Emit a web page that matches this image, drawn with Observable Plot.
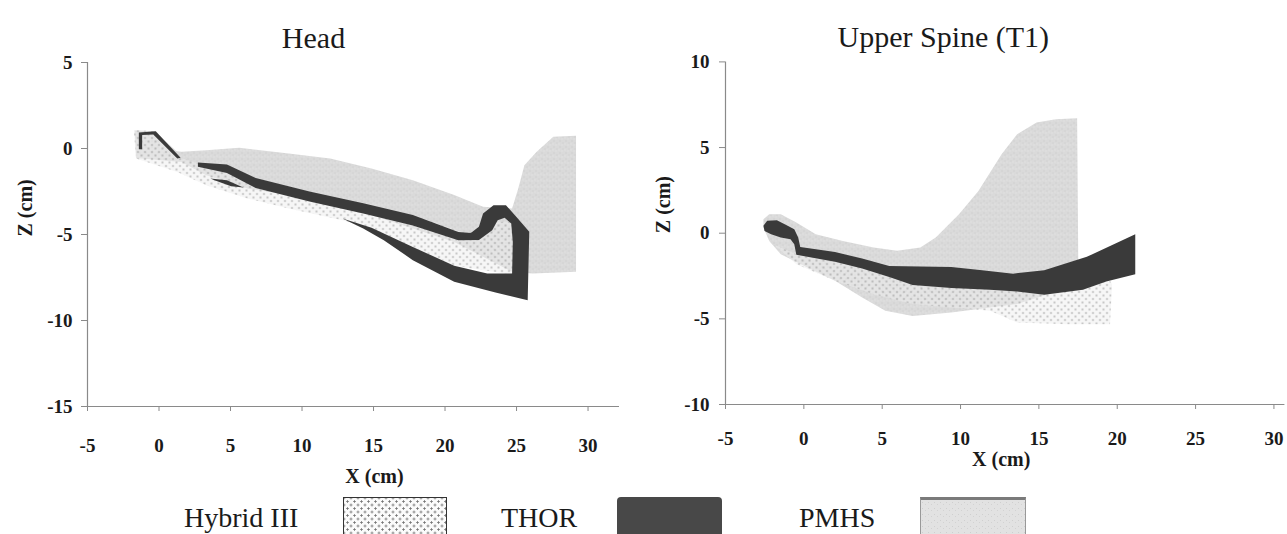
<!DOCTYPE html>
<html>
<head>
<meta charset="utf-8">
<script src="https://cdn.jsdelivr.net/npm/d3@7"></script>
<script src="https://cdn.jsdelivr.net/npm/@observablehq/plot@0.6"></script>
<style>
  html, body { margin: 0; padding: 0; background: #fff; overflow: hidden; }
  #wrap { position: relative; width: 1287px; height: 534px; font-family: "Liberation Serif", Tinos, "DejaVu Serif", "Noto Serif", serif; color: #1a1a1a; }
  .panel { position: absolute; top: 0; }
  .lg-text { position: absolute; top: 503px; font-size: 28px; line-height: 30px; white-space: nowrap; }
  .lg-sw { position: absolute; top: 497px; height: 45px; box-sizing: border-box; }
</style>
</head>
<body>
<svg width="0" height="0" style="position:absolute">
  <defs>
    <pattern id="pmhsFill" width="6" height="6" patternUnits="userSpaceOnUse">
      <rect width="6" height="6" fill="#dadada"/>
      <rect x="1" y="2" width="1" height="1" fill="#c6c6c6"/>
      <rect x="4" y="4" width="1" height="1" fill="#cbcbcb"/>
      <rect x="3" y="0" width="1" height="1" fill="#e6e6e6"/>
      <rect x="0" y="5" width="1" height="1" fill="#e4e4e4"/>
    </pattern>
    <pattern id="h3Dots" width="7" height="7" patternUnits="userSpaceOnUse">
      <rect width="7" height="7" fill="rgba(238,238,238,0.5)"/>
      <circle cx="1" cy="1" r="0.8" fill="#8c8c8c"/>
      <circle cx="4.5" cy="4.5" r="0.8" fill="#8c8c8c"/>
    </pattern>
  </defs>
</svg>
<div id="wrap">
  <div id="left" class="panel" style="left:0"></div>
  <div id="right" class="panel" style="left:640px"></div>
  <div id="legend"></div>
</div>
<script>
// ---------- tick values ----------
const xTicks = [-5, 0, 5, 10, 15, 20, 25, 30];
const headZTicks = [5, 0, -5, -10, -15];
const spineZTicks = [10, 5, 0, -5, -10];

// ---------- Head corridors: [X cm, Z cm] outlines ----------
const headPMHS = [[-1.7,1.05],[-0.3,1.0],[1.2,-0.15],[1.56,-0.19],[3.30,-0.10],[5.61,0.04],[9.07,-0.29],[11.97,-0.58],[14.86,-1.16],[17.75,-1.84],[20.64,-2.71],[22.66,-3.39],[24.69,-3.49],[25.12,-2.33],[25.55,-0.97],[26.41,-0.19],[27.57,0.68],[29.16,0.74],[29.16,-7.17],[26.12,-7.27],[24.69,-7.17],[20.64,-5.43],[17.75,-4.65],[14.86,-3.88],[11.97,-3.29],[9.07,-2.71],[6.19,-2.33],[3.30,-1.55],[1.56,-0.78],[-1.6,-0.55]];
const headHybrid = [[-1.76,1.07],[-0.17,1.01],[1.28,-0.48],[2.72,-0.87],[4.75,-1.07],[6.76,-1.94],[11.97,-2.91],[17.75,-3.88],[21.51,-4.94],[23.53,-4.26],[24.69,-4.26],[24.98,-7.36],[20.64,-6.82],[17.75,-5.72],[14.86,-4.65],[12.83,-4.17],[9.07,-3.49],[6.19,-2.91],[3.30,-2.13],[1.28,-1.36],[-1.61,-0.58]];
const headTHOR = [[2.72,-0.81],[4.75,-0.93],[6.76,-1.72],[10.52,-2.50],[14.28,-3.18],[17.75,-3.86],[20.93,-4.86],[21.80,-4.92],[22.37,-4.55],[22.66,-3.78],[23.39,-3.30],[24.26,-3.30],[24.98,-3.97],[25.89,-4.84],[25.78,-8.82],[23.53,-8.37],[20.64,-7.75],[17.75,-6.49],[15.72,-5.33],[14.28,-4.65],[12.83,-4.07],[14.86,-4.61],[17.75,-5.72],[20.64,-6.82],[22.95,-7.27],[24.69,-7.27],[24.74,-5.43],[24.63,-4.36],[24.17,-4.03],[23.68,-4.17],[23.30,-4.75],[22.37,-5.32],[20.93,-5.34],[17.75,-4.48],[14.28,-3.78],[10.52,-3.08],[6.76,-2.30],[4.75,-1.42],[2.72,-1.06]];
const headTHORhook = [[-1.41,-0.04],[-1.41,0.93],[-0.23,1.01],[1.51,-0.54],[1.28,-0.58],[-0.40,0.81],[-1.18,0.78],[-1.18,-0.04]];
const headTHORstreak = [[3.59,-1.74],[4.75,-1.84],[5.90,-2.27],[5.04,-2.19],[3.88,-1.84]];

// ---------- Upper spine (T1) corridors ----------
const spinePMHS = [[-2.58,0.82],[-2.21,1.11],[-1.47,1.11],[-0.48,0.62],[0.76,-0.06],[2.49,-0.45],[4.46,-0.84],[5.95,-1.03],[7.43,-0.84],[8.42,-0.25],[9.90,1.11],[11.14,2.47],[12.62,4.61],[13.61,5.78],[14.85,6.46],[16.08,6.65],[17.44,6.71],[17.52,-2.40],[15.59,-3.56],[13.61,-4.14],[11.88,-4.34],[9.41,-4.63],[6.94,-4.83],[5.20,-4.53],[3.72,-3.76],[1.99,-2.78],[0.26,-2.01],[-1.47,-1.23],[-2.21,-0.45],[-2.58,0.33]];
const spineHybrid = [[-1.96,-0.64],[-0.48,-1.23],[2.73,-1.81],[5.45,-2.40],[9.41,-3.07],[13.36,-3.27],[17.81,-2.98],[19.54,-2.78],[19.67,-2.98],[19.54,-5.31],[16.82,-5.31],[13.61,-5.21],[11.88,-4.53],[9.41,-4.34],[6.94,-4.14],[4.46,-3.56],[1.99,-2.78],[-0.48,-1.81]];
const spineTHOR = [[-2.58,0.43],[-2.34,0.72],[-1.72,0.76],[-1.22,0.52],[-0.61,0.23],[-0.36,-0.25],[-0.23,-0.80],[1.99,-1.10],[3.72,-1.48],[5.45,-1.92],[9.41,-1.98],[11.38,-2.16],[13.36,-2.36],[15.34,-2.16],[18.06,-1.38],[21.15,-0.06],[21.15,-2.40],[19.30,-2.82],[17.81,-3.30],[15.34,-3.60],[13.61,-3.40],[11.88,-3.30],[9.41,-3.20],[6.94,-3.02],[5.45,-2.55],[3.72,-2.06],[1.99,-1.66],[-0.48,-1.26],[-0.61,-0.64],[-0.85,-0.35],[-1.47,-0.25],[-2.09,-0.06],[-2.51,0.13]];

// ---------- legend ----------
const legendNames = ["Hybrid III", "THOR", "PMHS"];

const PMHS_FILL = "url(#pmhsFill)";
const H3_FILL = "url(#h3Dots)";
const THOR_FILL = "#3a3a3a";
const AXIS_GRAY = "#8a8a8a";
const SERIF = '"Liberation Serif", Tinos, "DejaVu Serif", "Noto Serif", serif';

const poly = (data, fill) => Plot.line(data, {
  x: d => d[0], y: d => d[1], curve: "linear-closed", fill, stroke: "none"
});

const baseStyle = {
  fontFamily: SERIF,
  fontSize: "19px",
  fontWeight: "bold",
  color: "#1a1a1a",
  background: "transparent",
  overflow: "visible"
};

const left = Plot.plot({
  width: 640, height: 460,
  marginLeft: 87, marginRight: 21, marginTop: 62, marginBottom: 54,
  x: {domain: [-5, 32.2]},
  y: {domain: [-15, 5]},
  style: baseStyle,
  marks: [
    poly(headPMHS, PMHS_FILL),
    poly(headHybrid, H3_FILL),
    poly(headTHOR, THOR_FILL),
    poly(headTHORhook, THOR_FILL),
    poly(headTHORstreak, THOR_FILL),
    Plot.ruleX([-5], {stroke: AXIS_GRAY, strokeWidth: 1.2}),
    Plot.ruleY([-15], {stroke: AXIS_GRAY, strokeWidth: 1.2}),
    Plot.axisX({ticks: xTicks, tickSize: 5, tickPadding: 27, tickFormat: d => String(d), stroke: AXIS_GRAY, color: "#1a1a1a", label: null, fontFamily: SERIF}),
    Plot.axisY({ticks: headZTicks, tickSize: 6, tickPadding: 9, tickFormat: d => String(d), stroke: AXIS_GRAY, color: "#1a1a1a", label: null, fontFamily: SERIF}),
    Plot.text(["X (cm)"], {text: d => d, frameAnchor: "bottom", dx: 21, dy: 76, fontSize: 20, fontWeight: "bold", fontFamily: SERIF}),
    Plot.text(["Z (cm)"], {text: d => d, frameAnchor: "left", rotate: -90, dx: -62, dy: 2, fontSize: 20, fontWeight: "bold", fontFamily: SERIF}),
    Plot.text(["Head"], {text: d => d, frameAnchor: "top", dx: -40, dy: -36, fontSize: 30, fontWeight: "normal", fontFamily: SERIF})
  ]
});

const right = Plot.plot({
  width: 647, height: 460,
  marginLeft: 85, marginRight: 2.6, marginTop: 61.4, marginBottom: 56,
  x: {domain: [-5, 30.7]},
  y: {domain: [-10, 10]},
  style: baseStyle,
  marks: [
    poly(spinePMHS, PMHS_FILL),
    poly(spineHybrid, H3_FILL),
    poly(spineTHOR, THOR_FILL),
    Plot.ruleX([-5], {stroke: AXIS_GRAY, strokeWidth: 1.2}),
    Plot.ruleY([-10], {stroke: AXIS_GRAY, strokeWidth: 1.2}),
    Plot.axisX({ticks: xTicks, tickSize: 5, tickPadding: 22, tickFormat: d => String(d), stroke: AXIS_GRAY, color: "#1a1a1a", label: null, fontFamily: SERIF}),
    Plot.axisY({ticks: spineZTicks, tickSize: 6, tickPadding: 10, tickFormat: d => String(d), stroke: AXIS_GRAY, color: "#1a1a1a", label: null, fontFamily: SERIF}),
    Plot.text(["X (cm)"], {text: d => d, frameAnchor: "bottom", dx: -4, dy: 61, fontSize: 20, fontWeight: "bold", fontFamily: SERIF}),
    Plot.text(["Z (cm)"], {text: d => d, frameAnchor: "left", rotate: -90, dx: -62, dy: 0, fontSize: 20, fontWeight: "bold", fontFamily: SERIF}),
    Plot.text(["Upper Spine (T1)"], {text: d => d, frameAnchor: "top-left", textAnchor: "start", dx: 112, dy: -36, fontSize: 30, fontWeight: "normal", fontFamily: SERIF})
  ]
});

document.getElementById("left").appendChild(left);
document.getElementById("right").appendChild(right);

// legend (HTML)
const legend = document.getElementById("legend");
const legendTextX = [184, 501, 799];
const dots = "radial-gradient(circle, #777 0.9px, transparent 1.3px) 0 0/7px 7px, radial-gradient(circle, #777 0.9px, transparent 1.3px) 3.5px 3.5px/7px 7px, #fbfbfb";
const swatchStyles = [
  "left:343px;width:104px;border:1.5px solid #333;",
  "left:617px;width:105px;background:#484848;border-radius:4px;",
  "left:920px;width:106px;background:url(\"data:image/svg+xml;utf8,<svg xmlns='http://www.w3.org/2000/svg' width='6' height='6'><rect width='6' height='6' fill='%23e2e2e2'/><rect x='1' y='2' width='1' height='1' fill='%23cfcfcf'/><rect x='4' y='4' width='1' height='1' fill='%23d2d2d2'/></svg>\");border-top:3px solid #7a7a7a;border-left:1px solid #999;border-right:1px solid #999;"
];
legendNames.forEach((name, i) => {
  const t = document.createElement("div");
  t.className = "lg-text";
  t.style.left = legendTextX[i] + "px";
  t.textContent = name;
  legend.appendChild(t);
  const s = document.createElement("div");
  s.className = "lg-sw";
  s.setAttribute("style", swatchStyles[i]);
  if (i === 0) s.style.background = dots;
  legend.appendChild(s);
});
</script>
</body>
</html>
